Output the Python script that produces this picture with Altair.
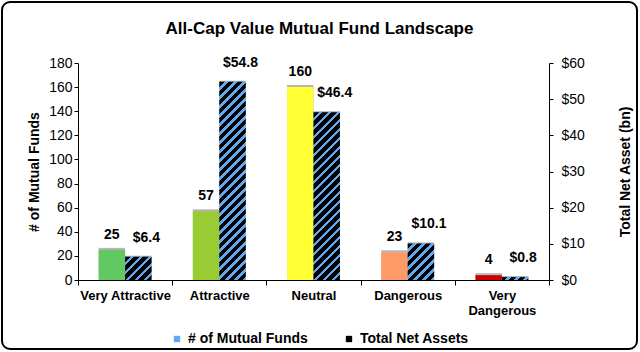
import altair as alt
import pandas as pd

# ---------------- data ----------------
categories = ["Very Attractive", "Attractive", "Neutral", "Dangerous", "Very Dangerous"]
fund_counts = [25, 57, 160, 23, 4]
net_assets = [6.4, 54.8, 46.4, 10.1, 0.8]
bar_colors = ["#62c862", "#99cc33", "#ffff33", "#ff9966", "#cc0000"]
legend_labels = ["# of Mutual Funds", "Total Net Assets"]

# ---------------- layout / style ----------------
W, H = 471, 217
COUNT_MAX, ASSET_MAX = 180, 60
PAD_OUTER = 0.78
FONT = "Liberation Sans"
BLUE = "#5fa8f2"
STRIPE = 9.0
BLUE_FRAC = 0.38

df = pd.DataFrame({"category": categories, "count": fund_counts, "assets": net_assets})

x_enc = alt.X(
    "category:N",
    sort=categories,
    scale=alt.Scale(paddingInner=0, paddingOuter=0),
    axis=alt.Axis(
        title=None,
        labelAngle=0,
        labelFontWeight="bold",
        labelFontSize=13,
        labelPadding=4,
        labelLimit=300,
        labelLineHeight=15,
        tickSize=5,
        tickBand="extent",
        labelExpr="datum.value === 'Very Dangerous' ? split(datum.value, ' ') : datum.value",
    ),
)
off_scale = alt.Scale(domain=["count", "assets"], paddingInner=0, paddingOuter=PAD_OUTER)

y_count = alt.Y(
    "count:Q",
    scale=alt.Scale(domain=[0, COUNT_MAX], nice=False),
    axis=alt.Axis(orient="left", values=list(range(0, COUNT_MAX + 1, 20)),
                  title="# of Mutual Funds", titlePadding=7),
)
y_assets = alt.Y(
    "assets:Q",
    scale=alt.Scale(domain=[0, ASSET_MAX], nice=False),
    axis=alt.Axis(orient="right", values=list(range(0, ASSET_MAX + 1, 10)),
                  format="$.0f", title="Total Net Asset (bn)", titlePadding=48,
                  titleAngle=270, labelPadding=8),
)

base = alt.Chart(df)

count_base = base.transform_calculate(series="'count'")
count_shadow = count_base.mark_bar(color="#999999", opacity=0.7, xOffset=2, yOffset=-2).encode(
    x=x_enc, xOffset=alt.XOffset("series:N", scale=off_scale), y=y_count)
count_bars = count_base.mark_bar().encode(
    x=x_enc,
    xOffset=alt.XOffset("series:N", scale=off_scale),
    y=y_count,
    fill=alt.Fill("category:N", scale=alt.Scale(domain=categories, range=bar_colors), legend=None),
)
count_text = count_base.mark_text(dy=-15, font=FONT, fontSize=14, fontWeight="bold",
                                  color="black", baseline="middle").encode(
    x=x_enc, xOffset=alt.XOffset("series:N", scale=off_scale), y=y_count, text="count:Q")

legend_layer = alt.Chart(pd.DataFrame({"series": legend_labels})).mark_square(size=0, opacity=0).encode(
    color=alt.Color(
        "series:N",
        scale=alt.Scale(domain=legend_labels, range=[BLUE, "#000000"]),
        legend=alt.Legend(
            orient="none", legendX=92, legendY=269, direction="horizontal", title=None,
            symbolType="square", symbolSize=40, symbolOpacity=1, symbolStrokeWidth=0,
            labelFont=FONT, labelFontSize=14, labelFontWeight="bold", labelColor="black",
            labelOffset=4, columnPadding=34,
        ),
    )
)

left = alt.layer(count_shadow, count_bars, count_text, legend_layer)

# hatched asset bars: one diagonal-stripe gradient per bar
band_w = (W / len(categories)) / (2 + 2 * PAD_OUTER)
asset_base = base.transform_calculate(series="'assets'")
asset_layers = [
    asset_base.mark_bar(color="#777777", opacity=0.6, xOffset=2, yOffset=-1).encode(
        x=x_enc, xOffset=alt.XOffset("series:N", scale=off_scale), y=y_assets)
]
for cat, val in zip(categories, net_assets):
    w = band_w
    h = max(val / ASSET_MAX * H, 0.5)
    L = w + h
    den = w * w + h * h
    stops = []
    s = 0.0
    while s < L:
        s1 = min(s + (1 - BLUE_FRAC) * STRIPE, L)
        s2 = min(s + STRIPE, L)
        stops += [
            alt.GradientStop(offset=s / L, color="#000000"),
            alt.GradientStop(offset=s1 / L, color="#000000"),
            alt.GradientStop(offset=s1 / L, color=BLUE),
            alt.GradientStop(offset=s2 / L, color=BLUE),
        ]
        s += STRIPE
    grad = alt.LinearGradient(gradient="linear", stops=stops,
                              x1=0, y1=0, x2=w * L / den, y2=h * L / den)
    asset_layers.append(
        asset_base.transform_filter(alt.datum.category == cat).mark_bar(fill=grad).encode(
            x=x_enc, xOffset=alt.XOffset("series:N", scale=off_scale), y=y_assets)
    )
asset_text = asset_base.mark_text(dx=8, dy=-19, font=FONT, fontSize=14, fontWeight="bold",
                                  color="black", baseline="middle").encode(
    x=x_enc, xOffset=alt.XOffset("series:N", scale=off_scale), y=y_assets,
    text=alt.Text("assets:Q", format="$.1f"))
right = alt.layer(*asset_layers, asset_text)

frame = alt.Chart(alt.Data(values=[{"k": 1}])).mark_rect(
    fillOpacity=0, stroke="black", strokeWidth=2, cornerRadius=8
).encode(x=alt.value(-76), x2=alt.value(559), y=alt.value(-61), y2=alt.value(286))

chart = (
    alt.layer(left, right, frame)
    .resolve_scale(y="independent")
    .properties(
        width=W,
        height=H,
        autosize="none",
        padding={"left": 78, "top": 63, "right": 91, "bottom": 72},
        title=alt.TitleParams(
            "All-Cap Value Mutual Fund Landscape", font=FONT, fontSize=17, fontWeight="bold",
            color="black", anchor="middle", frame="group", offset=-37, dx=6,
        ),
        background="white",
    )
    .configure_view(stroke=None)
    .configure_axis(
        grid=False, domainColor="black", tickColor="black", tickSize=4,
        labelFont=FONT, labelFontSize=14, labelColor="black",
        titleFont=FONT, titleFontSize=14, titleFontWeight="bold", titleColor="black",
    )
)

chart.save("out.html", embed_options={"renderer": "svg", "actions": False})
